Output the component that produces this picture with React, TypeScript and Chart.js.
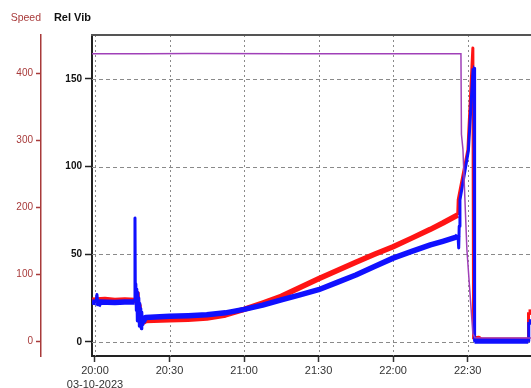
import React, { useEffect, useRef } from 'react';
import { Chart, registerables } from 'chart.js';

Chart.register(...registerables);

// X values are minutes after 20:00 on 03-10-2023
const xTickMinutes = [0, 30, 60, 90, 120, 150];
const startHour = 20;
const dateLabel = '03-10-2023';
const speedTicks = [0, 100, 200, 300, 400];
const vibTicks = [0, 50, 100, 150];

// Speed (purple, left outer axis)
const speedTime = [-1.2, 20, 40, 80, 120, 147.3, 147.5, 148.1, 149.7, 152.1, 152.9, 175.5];
const speedValues = [429, 429, 429.5, 429, 429, 429, 309, 287, 137, 12, 6, 5.5];

// Rel Vib channel 1 (red)
const vib1Time = [-1.2, 4, 8, 12, 16.2, 16.6, 17.0, 17.4, 17.8, 18.2, 18.6, 19.0, 19.6, 20.5, 30, 37.5, 45, 52.5, 60, 67.5, 75, 82.5, 90, 97.5, 105, 112.5, 120, 127.5, 135, 140, 146.0, 146.2, 150.1, 152.1, 152.4, 154.5, 155.3, 174.3, 174.5, 175.5];
const vib1Values = [23.8, 24.2, 23.6, 23.9, 23.6, 30, 22, 28, 15, 21, 10, 14, 11.5, 12.2, 12.6, 13, 13.6, 15.4, 18.6, 22.2, 26, 31, 36, 40.8, 45.5, 50, 54.3, 59.2, 64.2, 67.8, 72.4, 81, 109.5, 167.6, 1.5, 2, 1, 1, 17, 17];

// Rel Vib channel 2 (blue)
const vib2Time = [-1.2, 0.4, 0.8, 1.2, 2, 8, 12, 16.0, 16.1, 16.25, 16.45, 16.65, 16.85, 17.05, 17.25, 17.45, 17.65, 17.85, 18.05, 18.25, 18.45, 18.65, 18.85, 19.05, 19.3, 19.6, 20.3, 30, 37.5, 45, 52.5, 60, 67.5, 75, 82.5, 90, 97.5, 105, 112.5, 120, 127.5, 135, 140, 145.7, 146.1, 146.4, 146.6, 146.9, 150.3, 152.2, 152.6, 152.8, 174.4, 174.6, 175.5];
const vib2Values = [22.8, 22.5, 27, 20.5, 22.8, 22.5, 22.8, 22.8, 70.7, 24, 33, 18, 30, 12, 28, 14, 25, 9, 22, 11, 19, 7.5, 17, 10, 15, 12, 14, 14.6, 15, 15.5, 16.6, 18.6, 21, 24, 26.8, 29.8, 34, 38.2, 43, 47.8, 51.6, 55.3, 57.4, 59.9, 61, 53.6, 66, 81, 109, 156, 156, 0.5, 0.5, 11.4, 11.4];

const FONT = '"Liberation Sans", Arial, sans-serif';
const SPEED_COLOR = '#a83a3a';

const toPoints = (xs: number[], ys: number[]) => xs.map((x, i) => ({ x, y: ys[i] }));

const fmtTime = (m: number) => {
  const total = startHour * 60 + m;
  const h = Math.floor(total / 60);
  const mm = Math.round(total % 60);
  return `${h}:${mm.toString().padStart(2, '0')}`;
};

const steepWidth = (thick: number, thin: number) => (ctx: any) => {
  const dx = Math.abs(ctx.p1.x - ctx.p0.x);
  const dy = Math.abs(ctx.p1.y - ctx.p0.y);
  return dy > 3 * dx && dy > 6 ? thin : thick;
};

const overlay = {
  id: 'overlay',
  beforeDatasetsDraw(chart: any) {
    const { ctx, chartArea, scales } = chart;
    const { left, right, top, bottom } = chartArea;
    ctx.save();
    ctx.lineWidth = 1;
    ctx.strokeStyle = '#8a8a8a';
    ctx.setLineDash([2, 3]);
    scales.x.ticks.forEach((t: any) => {
      const px = Math.round(scales.x.getPixelForValue(t.value)) + 0.5;
      ctx.beginPath();
      ctx.moveTo(px, top);
      ctx.lineTo(px, bottom);
      ctx.stroke();
    });
    ctx.setLineDash([4, 3]);
    scales.vib.ticks.forEach((t: any) => {
      const py = Math.round(scales.vib.getPixelForValue(t.value)) + 0.5;
      ctx.beginPath();
      ctx.moveTo(left, py);
      ctx.lineTo(right, py);
      ctx.stroke();
    });
    ctx.restore();
  },
  afterDraw(chart: any) {
    const { ctx, chartArea, scales } = chart;
    ctx.save();
    ctx.strokeStyle = '#555';
    ctx.lineWidth = 2;
    ctx.beginPath();
    ctx.moveTo(chartArea.left - 1, chartArea.top);
    ctx.lineTo(chartArea.right, chartArea.top);
    ctx.stroke();
    ctx.textAlign = 'right';
    ctx.textBaseline = 'middle';
    ctx.fillStyle = SPEED_COLOR;
    ctx.font = `10.5px ${FONT}`;
    ctx.fillText('Speed', scales.speed.right, 18);
    ctx.fillStyle = '#111';
    ctx.font = `bold 11px ${FONT}`;
    ctx.fillText('Rel Vib', scales.vib.right - 1, 18);
    ctx.restore();
  },
};

export default function App() {
  const ref = useRef<HTMLCanvasElement>(null);
  useEffect(() => {
    document.body.style.margin = '0';
    const chart = new Chart(ref.current as HTMLCanvasElement, {
      type: 'line',
      data: {
        datasets: [
          {
            label: 'Speed',
            data: toPoints(speedTime, speedValues),
            yAxisID: 'speed',
            borderColor: '#a040b8',
            borderWidth: 1.5,
            pointRadius: 0,
            tension: 0,
          },
          {
            label: 'Rel Vib 2',
            data: toPoints(vib2Time, vib2Values),
            yAxisID: 'vib',
            borderColor: '#1010ff',
            borderWidth: 5.5,
            borderJoinStyle: 'round',
            pointRadius: 0,
            tension: 0,
            segment: { borderWidth: steepWidth(5.5, 3) },
          },
          {
            label: 'Rel Vib 1',
            data: toPoints(vib1Time, vib1Values),
            yAxisID: 'vib',
            borderColor: '#ff1414',
            borderWidth: 5.5,
            borderJoinStyle: 'round',
            pointRadius: 0,
            tension: 0,
            segment: { borderWidth: steepWidth(5.5, 3) },
          },
        ],
      } as any,
      options: {
        responsive: false,
        animation: false,
        layout: { padding: { top: 35, left: 0, right: 0, bottom: 0 } },
        plugins: { legend: { display: false }, tooltip: { enabled: false } },
        scales: {
          x: {
            type: 'linear',
            position: 'bottom',
            min: -1.2,
            max: 175.5,
            afterBuildTicks: (s: any) => {
              s.ticks = xTickMinutes.map((v) => ({ value: v }));
            },
            afterFit: (s: any) => {
              s.height = 32;
            },
            ticks: {
              autoSkip: false,
              maxRotation: 0,
              padding: 2,
              color: '#333',
              font: { family: FONT, size: 11, lineHeight: 1.3 },
              callback: (v: any) => (v === 0 ? [fmtTime(0), dateLabel] : fmtTime(v)),
            },
            grid: { drawOnChartArea: false, tickLength: 6, color: '#333', tickWidth: 1.5 },
            border: { color: '#222', width: 2 },
          },
          speed: {
            type: 'linear',
            position: 'left',
            weight: 1,
            min: -21.3,
            max: 457,
            afterBuildTicks: (s: any) => {
              s.ticks = speedTicks.map((v) => ({ value: v }));
            },
            afterFit: (s: any) => {
              s.width = 41;
            },
            ticks: { color: SPEED_COLOR, padding: 3, font: { family: FONT, size: 10 } },
            grid: { drawOnChartArea: false, tickLength: 5, color: SPEED_COLOR, tickWidth: 1.5 },
            border: { color: SPEED_COLOR, width: 1.5 },
          },
          vib: {
            type: 'linear',
            position: 'left',
            weight: 0,
            min: -8,
            max: 175,
            afterBuildTicks: (s: any) => {
              s.ticks = vibTicks.map((v) => ({ value: v }));
            },
            afterFit: (s: any) => {
              s.width = 51;
            },
            ticks: { color: '#111', padding: 3, font: { family: FONT, size: 10, weight: 'bold' } },
            grid: { drawOnChartArea: false, tickLength: 7, color: '#222', tickWidth: 1.5 },
            border: { color: '#222', width: 2 },
          },
        },
      } as any,
      plugins: [overlay],
    });
    return () => chart.destroy();
  }, []);
  return <canvas ref={ref} width={531} height={388} style={{ display: 'block' }} />;
}
